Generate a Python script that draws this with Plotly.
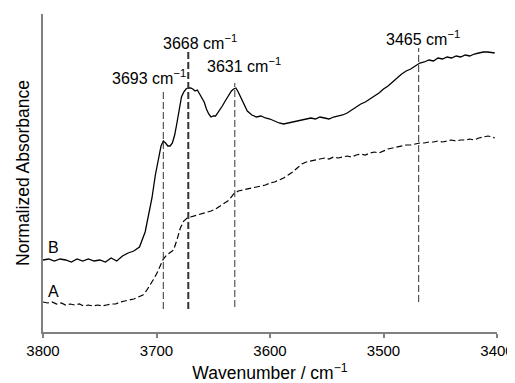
import plotly.graph_objects as go

# Spectrum B (solid)
b_wn = [3800, 3795, 3790, 3785, 3780, 3775, 3770, 3765, 3760, 3755, 3750, 3745, 3740, 3735,
        3730, 3725, 3720, 3715, 3710, 3707, 3704, 3701, 3698, 3696, 3694, 3692, 3690, 3688,
        3686, 3684, 3682, 3680, 3678, 3676, 3674, 3672, 3670, 3668, 3666, 3664, 3662, 3660,
        3658, 3656, 3654, 3652, 3650, 3648, 3646, 3644, 3642, 3640, 3638, 3636, 3634, 3632,
        3630, 3628, 3626, 3624, 3622, 3620, 3616, 3612, 3608, 3604, 3600, 3596, 3592, 3588,
        3584, 3580, 3576, 3572, 3568, 3564, 3560, 3556, 3552, 3548, 3544, 3540, 3536, 3532,
        3528, 3524, 3520, 3516, 3512, 3508, 3504, 3500, 3496, 3492, 3488, 3484, 3480, 3476,
        3472, 3468, 3464, 3460, 3456, 3452, 3448, 3444, 3440, 3436, 3432, 3428, 3424, 3420,
        3416, 3412, 3408, 3404, 3402]
b_abs = [0.72, 0.73, 0.71, 0.73, 0.72, 0.70, 0.73, 0.71, 0.73, 0.71, 0.72, 0.70, 0.74, 0.71,
         0.76, 0.79, 0.81, 0.85, 1.00, 1.17, 1.34, 1.57, 1.77, 1.86, 1.91, 1.89, 1.86, 1.86,
         1.89, 1.97, 2.09, 2.24, 2.35, 2.40, 2.43, 2.44, 2.44, 2.43, 2.41, 2.42, 2.38, 2.35,
         2.30, 2.23, 2.18, 2.15, 2.16, 2.16, 2.19, 2.22, 2.26, 2.30, 2.34, 2.38, 2.41, 2.43,
         2.44, 2.40, 2.35, 2.30, 2.25, 2.21, 2.17, 2.15, 2.16, 2.14, 2.13, 2.11, 2.09, 2.08,
         2.09, 2.10, 2.11, 2.12, 2.13, 2.14, 2.13, 2.15, 2.14, 2.13, 2.15, 2.16, 2.17, 2.19,
         2.22, 2.25, 2.28, 2.30, 2.33, 2.36, 2.39, 2.43, 2.46, 2.50, 2.54, 2.58, 2.61, 2.63,
         2.66, 2.69, 2.70, 2.72, 2.71, 2.74, 2.73, 2.75, 2.74, 2.76, 2.75, 2.77, 2.76, 2.78,
         2.79, 2.80, 2.80, 2.79, 2.79]

# Spectrum A (dashed)
a_wn = [3800, 3796, 3792, 3788, 3784, 3780, 3776, 3772, 3768, 3764, 3760, 3756, 3752, 3748,
        3744, 3740, 3736, 3732, 3728, 3724, 3720, 3716, 3712, 3709, 3706, 3703, 3700, 3697,
        3694, 3691, 3688, 3685, 3682, 3679, 3676, 3673, 3670, 3667, 3664, 3660, 3656, 3652,
        3648, 3644, 3640, 3636, 3632, 3628, 3624, 3620, 3616, 3612, 3608, 3604, 3600, 3596,
        3592, 3588, 3584, 3580, 3576, 3572, 3568, 3564, 3560, 3556, 3552, 3548, 3544, 3540,
        3536, 3532, 3528, 3524, 3520, 3516, 3512, 3508, 3504, 3500, 3496, 3492, 3488, 3484,
        3480, 3476, 3472, 3468, 3464, 3460, 3456, 3452, 3448, 3444, 3440, 3436, 3432, 3428,
        3424, 3420, 3416, 3412, 3408, 3404, 3402]
a_abs = [0.30, 0.29, 0.30, 0.28, 0.29, 0.27, 0.28, 0.27, 0.28, 0.26, 0.27, 0.26, 0.27, 0.26,
         0.27, 0.28, 0.28, 0.30, 0.31, 0.32, 0.33, 0.35, 0.37, 0.41, 0.46, 0.52, 0.58, 0.65,
         0.73, 0.77, 0.80, 0.82, 0.92, 1.04, 1.11, 1.14, 1.15, 1.16, 1.17, 1.18, 1.19, 1.21,
         1.23, 1.26, 1.29, 1.32, 1.38, 1.41, 1.42, 1.43, 1.44, 1.45, 1.46, 1.47, 1.49, 1.50,
         1.52, 1.54, 1.57, 1.60, 1.64, 1.68, 1.70, 1.71, 1.72, 1.73, 1.74, 1.73, 1.75, 1.74,
         1.75, 1.76, 1.75, 1.77, 1.78, 1.77, 1.79, 1.80, 1.79, 1.81, 1.83, 1.84, 1.85, 1.86,
         1.87, 1.87, 1.88, 1.89, 1.89, 1.90, 1.90, 1.91, 1.90, 1.91, 1.92, 1.91, 1.92, 1.92,
         1.93, 1.92, 1.94, 1.95, 1.96, 1.95, 1.94]

# Marker lines (position, top, bottom) and their labels
peak_pos = [3694, 3672, 3631, 3469]
peak_top = [2.40, 2.80, 2.49, 2.84]
peak_bottom = [0.23, 0.23, 0.25, 0.30]
peak_width = [1, 2, 1, 1]
peak_labels = ["3693 cm<sup>−1</sup>", "3668 cm<sup>−1</sup>", "3631 cm<sup>−1</sup>", "3465 cm<sup>−1</sup>"]
label_x = [3707, 3662, 3623, 3465.5]
label_y = [2.55, 2.90, 2.67, 2.945]

series_names = ["B", "A"]
series_label_x = [3791, 3791]
series_label_y = [0.85, 0.41]

x_ticks = [3800, 3700, 3600, 3500, 3400]

FONT = "Liberation Sans, Arial, sans-serif"

fig = go.Figure()
fig.add_trace(go.Scatter(x=b_wn, y=b_abs, mode="lines", name="B",
                         line=dict(color="black", width=1.3)))
fig.add_trace(go.Scatter(x=a_wn, y=a_abs, mode="lines", name="A",
                         line=dict(color="black", width=1.2, dash="6px,3px")))

for p, t, bt, w in zip(peak_pos, peak_top, peak_bottom, peak_width):
    fig.add_shape(type="line", xref="x", yref="y", x0=p, x1=p, y0=bt, y1=t,
                  line=dict(color="#333333", width=w, dash="7px,3px"))

for txt, lx, ly in zip(peak_labels, label_x, label_y):
    fig.add_annotation(x=lx, y=ly, xref="x", yref="y", text=txt, showarrow=False,
                       xanchor="center", yanchor="middle",
                       font=dict(family=FONT, size=16, color="black"))

for txt, lx, ly in zip(series_names, series_label_x, series_label_y):
    fig.add_annotation(x=lx, y=ly, xref="x", yref="y", text=txt, showarrow=False,
                       xanchor="center", yanchor="middle",
                       font=dict(family=FONT, size=16, color="black"))

# The page body has an 8px margin, so the figure is sized to fit the 515x383 window.
fig.update_layout(
    width=507, height=375,
    margin=dict(l=35, r=18, t=6, b=51, autoexpand=False),
    paper_bgcolor="white", plot_bgcolor="white",
    showlegend=False,
    font=dict(family=FONT, size=16, color="black"),
    xaxis=dict(range=[3800, 3400], tickvals=x_ticks, ticktext=[str(v) for v in x_ticks],
               showline=True, linecolor="#808080", linewidth=1.5,
               ticks="outside", ticklen=4, tickcolor="#808080", tickwidth=1.5,
               showgrid=False, zeroline=False, automargin=False,
               ticklabeloverflow="allow",
               tickfont=dict(family=FONT, size=15, color="black"),
               title=dict(text="Wavenumber / cm<sup>−1</sup>", standoff=11,
                          font=dict(family=FONT, size=17.5, color="black"))),
    yaxis=dict(range=[0, 3.18], showline=True, linecolor="#808080", linewidth=1.5,
               showticklabels=False, ticks="", showgrid=False, zeroline=False,
               automargin=False,
               title=dict(text="Normalized Absorbance", standoff=7,
                          font=dict(family=FONT, size=17.5, color="black"))),
)

fig.write_html("out.html")
